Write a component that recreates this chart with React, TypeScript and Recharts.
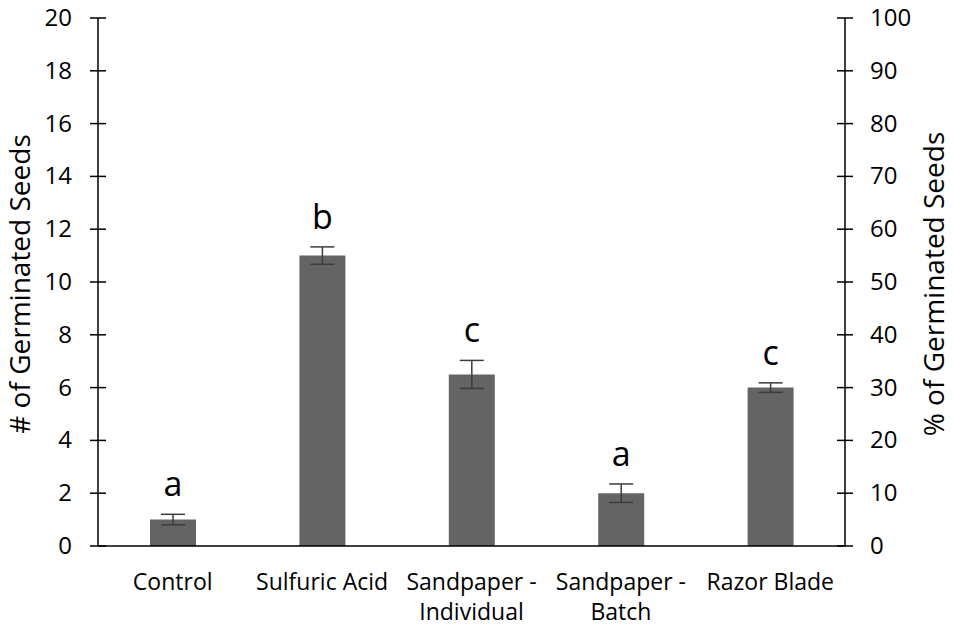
import React from 'react';
import { ComposedChart, Bar, Line, XAxis, YAxis, ErrorBar, LabelList } from 'recharts';

// germination results per scarification treatment (20 seeds each)
const treatments = ['Control', 'Sulfuric Acid', 'Sandpaper - Individual', 'Sandpaper - Batch', 'Razor Blade'];
const germinated = [1, 11, 6.5, 2, 6];
const stdError = [0.2, 0.33, 0.53, 0.35, 0.18];
const groupLetters = ['a', 'b', 'c', 'a', 'c'];
const countTicks = [0, 2, 4, 6, 8, 10, 12, 14, 16, 18, 20];
const percentTicks = [0, 10, 20, 30, 40, 50, 60, 70, 80, 90, 100];
const seedsPerTreatment = 20;

const data = treatments.map((name, i) => ({
  name,
  seeds: germinated[i],
  pct: (germinated[i] / seedsPerTreatment) * 100,
  err: stdError[i],
  letter: groupLetters[i],
}));

const FONT = '"Open Sans", sans-serif';
const AXIS = '#000';

const LEFT_MARGIN = 26;
const RIGHT_MARGIN = 25;

const LeftTick: React.FC<any> = ({ x, y, payload }) => {
  const ax = x + LEFT_MARGIN;
  return (
    <g>
      <line x1={ax - 8} x2={ax + 8} y1={y} y2={y} stroke={AXIS} strokeWidth={1.5} />
      <text x={x} y={y} dy={8} textAnchor="end" fontSize={24} fontFamily={FONT} fill="#000">
        {payload.value}
      </text>
    </g>
  );
};

const RightTick: React.FC<any> = ({ x, y, payload }) => {
  const ax = x - RIGHT_MARGIN;
  return (
    <g>
      <line x1={ax - 8} x2={ax + 8} y1={y} y2={y} stroke={AXIS} strokeWidth={1.5} />
      <text x={x} y={y} dy={8} textAnchor="start" fontSize={24} fontFamily={FONT} fill="#000">
        {payload.value}
      </text>
    </g>
  );
};

const CategoryTick: React.FC<any> = ({ x, y, payload }) => {
  const parts = String(payload.value).split(' - ');
  const lines = parts.length > 1 ? [parts[0] + ' -', parts[1]] : parts;
  return (
    <text x={x} y={y} textAnchor="middle" fontSize={23} fontFamily={FONT} fill="#000">
      {lines.map((line, i) => (
        <tspan key={i} x={x} dy={i === 0 ? 36 : 30}>
          {line}
        </tspan>
      ))}
    </text>
  );
};

const AxisTitle: React.FC<any> = ({ viewBox, value, side }) => {
  const { x, y, width, height } = viewBox;
  const bx = side === 'left' ? x + 30 : x + width - 9;
  const cy = y + height / 2 + 2;
  return (
    <text
      transform={`translate(${bx},${cy}) rotate(-90)`}
      textAnchor="middle"
      fontSize={28}
      fontFamily={FONT}
      fill="#000"
    >
      {value}
    </text>
  );
};

// significance letter sits just above the error bar cap
const GroupLetter: React.FC<any> = ({ x, y, width, height, index, value }) => {
  const perUnit = height / germinated[index];
  const capTop = y - stdError[index] * perUnit;
  return (
    <text x={x + width / 2} y={capTop - 18} textAnchor="middle" fontSize={34} fontFamily={FONT} fill="#000">
      {value}
    </text>
  );
};

export default function App() {
  return (
    <div style={{ position: 'absolute', left: 0, top: 0, width: 953, height: 627, background: '#fff' }}>
      <ComposedChart width={953} height={627} data={data} margin={{ top: 18, right: 0, bottom: 0, left: 0 }}>
        <XAxis
          dataKey="name"
          height={81}
          axisLine={{ stroke: AXIS, strokeWidth: 1.5 }}
          tickLine={false}
          tick={<CategoryTick />}
          interval={0}
        />
        <YAxis
          yAxisId="count"
          width={98}
          domain={[0, 20]}
          ticks={countTicks}
          interval={0}
          axisLine={{ stroke: AXIS, strokeWidth: 1.5 }}
          tickLine={false}
          tickSize={0}
          tickMargin={LEFT_MARGIN}
          tick={<LeftTick />}
          label={(props: any) => <AxisTitle {...props} value="# of Germinated Seeds" side="left" />}
        />
        <YAxis
          yAxisId="percent"
          orientation="right"
          width={108}
          domain={[0, 100]}
          allowDataOverflow
          ticks={percentTicks}
          interval={0}
          axisLine={{ stroke: AXIS, strokeWidth: 1.5 }}
          tickLine={false}
          tickSize={0}
          tickMargin={RIGHT_MARGIN}
          tick={<RightTick />}
          label={(props: any) => <AxisTitle {...props} value="% of Germinated Seeds" side="right" />}
        />
        <Bar yAxisId="count" dataKey="seeds" fill="#646464" barSize={46} isAnimationActive={false}>
          <ErrorBar dataKey="err" width={12} stroke="#3c3c3c" strokeWidth={1.5} direction="y" />
          <LabelList dataKey="letter" content={<GroupLetter />} />
        </Bar>
        {/* same values on the percent scale; only there to bind the right axis */}
        <Line
          yAxisId="percent"
          dataKey="pct"
          stroke="none"
          dot={false}
          activeDot={false}
          legendType="none"
          isAnimationActive={false}
        />
      </ComposedChart>
    </div>
  );
}
